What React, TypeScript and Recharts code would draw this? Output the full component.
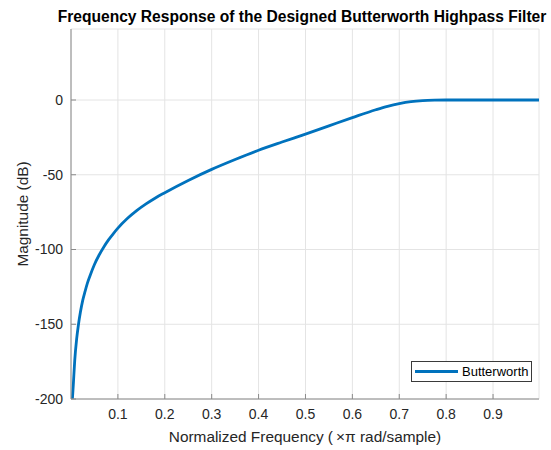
import React from 'react';
import { LineChart, Line, XAxis, YAxis, CartesianGrid, Legend } from 'recharts';

// normalized frequency (x pi rad/sample) and magnitude in dB
const FREQ = [
  0.003, 0.005, 0.008, 0.012, 0.016, 0.02, 0.025, 0.03, 0.035, 0.04, 0.05, 0.06, 0.07, 0.08, 0.09,
  0.1, 0.12, 0.14, 0.16, 0.18, 0.2, 0.25, 0.3, 0.35, 0.4, 0.45, 0.5, 0.55, 0.6, 0.65, 0.675, 0.7,
  0.725, 0.75, 0.775, 0.8, 0.85, 0.9, 0.95, 0.998,
];
const MAGNITUDE = [
  -200, -190, -174, -160, -150, -142, -134, -128, -122.5, -118, -110, -103.7, -98.3, -93.6, -89.5,
  -85.7, -79.3, -74, -69.5, -65.5, -62, -53.8, -46.4, -39.8, -33.6, -28.1, -22.8, -17.3, -11.8,
  -6.5, -4.2, -2.4, -1.1, -0.4, -0.1, 0, 0, 0, 0, 0,
];
const X_TICKS = [0.1, 0.2, 0.3, 0.4, 0.5, 0.6, 0.7, 0.8, 0.9];
const Y_TICKS = [-200, -150, -100, -50, 0];

const FONT = '"Liberation Sans", Arial, Helvetica, sans-serif';
const LINE_COLOR = '#0072BD';
const AXIS_COLOR = '#8a8a8a';
const TEXT_COLOR = '#262626';

const data = FREQ.map((x, i) => ({ x, mag: MAGNITUDE[i] }));

const renderLegend = () => (
  <div
    style={{
      display: 'flex',
      alignItems: 'center',
      border: '1px solid #3a3a3a',
      background: '#fff',
      width: 119,
      height: 19,
      fontFamily: FONT,
      fontSize: 13,
      color: '#000',
    }}
  >
    <span style={{ display: 'inline-block', width: 43, height: 3, background: LINE_COLOR, marginLeft: 3, marginRight: 4 }} />
    <span>Butterworth</span>
  </div>
);

const App: React.FC = () => {
  return (
    <div style={{ position: 'absolute', left: 0, top: 0, width: 551, height: 450, overflow: 'hidden', background: '#fff' }}>
      <div
        style={{
          position: 'absolute',
          left: 0,
          top: 8,
          width: 604,
          textAlign: 'center',
          whiteSpace: 'nowrap',
          fontFamily: FONT,
          fontWeight: 'bold',
          fontSize: 15.6,
          lineHeight: '18px',
          color: '#000',
        }}
      >
        Frequency Response of the Designed Butterworth Highpass Filter
      </div>
      <LineChart width={551} height={450} data={data} margin={{ top: 29, right: 12, bottom: 21, left: 11 }}>
        <CartesianGrid xAxisId="bottom" yAxisId="left" stroke="#e4e4e4" strokeWidth={1} />
        <XAxis
          xAxisId="bottom"
          dataKey="x"
          type="number"
          domain={[0, 0.998]}
          ticks={X_TICKS}
          tickFormatter={(v: number) => v.toFixed(1)}
          height={30}
          tickSize={-5}
          tickMargin={15}
          stroke={AXIS_COLOR}
          tick={{ fill: TEXT_COLOR, fontSize: 14, fontFamily: FONT }}
          label={{
            content: ({ viewBox }: any) => (
              <text
                x={viewBox.x + viewBox.width / 2}
                y={viewBox.y + 43}
                textAnchor="middle"
                fill={TEXT_COLOR}
                fontSize={15.4}
                fontFamily={FONT}
              >
                Normalized Frequency (&#8201;×π rad/sample)
              </text>
            ),
          }}
        />
        <XAxis
          xAxisId="top"
          dataKey="x"
          type="number"
          orientation="top"
          domain={[0, 0.998]}
          ticks={X_TICKS}
          height={0}
          tickSize={-5}
          tick={false}
          stroke={AXIS_COLOR}
        />
        <YAxis
          yAxisId="left"
          type="number"
          domain={[-200, 47.5]}
          ticks={Y_TICKS}
          width={60}
          tickSize={-5}
          tickMargin={13}
          stroke={AXIS_COLOR}
          tick={{ fill: TEXT_COLOR, fontSize: 14, fontFamily: FONT }}
          label={{
            content: ({ viewBox }: any) => {
              const cx = viewBox.x + 11;
              const cy = viewBox.y + viewBox.height / 2;
              return (
                <text
                  x={cx}
                  y={cy}
                  transform={`rotate(-90 ${cx} ${cy})`}
                  textAnchor="middle"
                  dominantBaseline="central"
                  fill={TEXT_COLOR}
                  fontSize={15.4}
                  fontFamily={FONT}
                >
                  Magnitude (dB)
                </text>
              );
            },
          }}
        />
        <YAxis
          yAxisId="right"
          orientation="right"
          type="number"
          domain={[-200, 47.5]}
          ticks={Y_TICKS}
          width={0}
          tickSize={-5}
          tick={false}
          stroke={AXIS_COLOR}
        />
        <Line
          xAxisId="bottom"
          yAxisId="left"
          type="monotone"
          dataKey="mag"
          name="Butterworth"
          stroke={LINE_COLOR}
          strokeWidth={2.8}
          dot={false}
          isAnimationActive={false}
        />
        <Legend
          layout="vertical"
          align="center"
          verticalAlign="middle"
          content={renderLegend}
          wrapperStyle={{ left: 411, top: 361, width: 121, height: 21 }}
        />
      </LineChart>
    </div>
  );
};

export default App;
